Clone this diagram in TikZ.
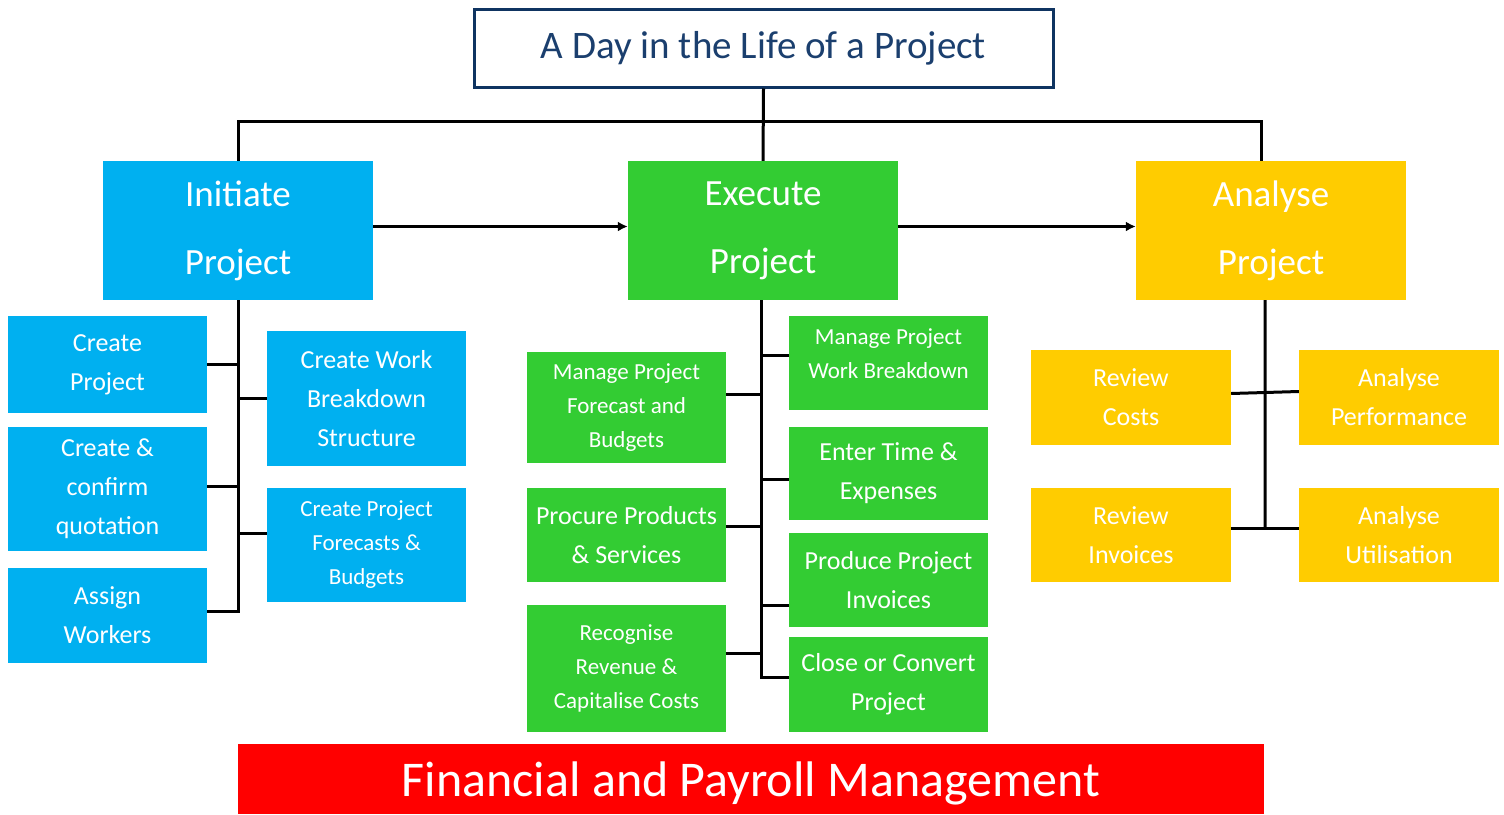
\documentclass[tikz,border=0pt]{standalone}
\usepackage{fontspec}
\setmainfont{Carlito}
\usetikzlibrary{positioning,calc,arrows.meta}

\definecolor{initblue}{HTML}{00B0F0}
\definecolor{execgreen}{HTML}{33CC33}
\definecolor{analyellow}{HTML}{FFCC00}
\definecolor{titlenavy}{HTML}{0F3461}
\definecolor{titletext}{HTML}{1B3F6E}
\definecolor{payred}{HTML}{FF0000}

\newcommand{\phasetxt}{\fontsize{37}{68}\selectfont}
\newcommand{\bigtxt}{\fontsize{26}{39}\selectfont}
\newcommand{\smalltxt}{\fontsize{23}{34}\selectfont}

\tikzset{
  box/.style={inner sep=0pt, align=center, text=white},
  phase/.style={box, minimum width=270pt, minimum height=139pt, font=\phasetxt},
  task/.style={box, minimum width=199pt, font=\bigtxt},
  initbox/.style={fill=initblue},
  execbox/.style={fill=execgreen},
  analbox/.style={fill=analyellow},
  wire/.style={line width=3pt, black},
}

\begin{document}
\begin{tikzpicture}[x=1pt, y=-1pt]
    \useasboundingbox (0,0) rectangle (1504,814);

    % Title
    \node[draw=titlenavy, line width=3pt, minimum width=579pt, minimum height=78pt,
          inner sep=0pt, text=titletext, font=\fontsize{39}{44}\selectfont]
          (title) at (763.5,48) {A Day in the Life of a Project};

    % Phases
    \node[phase, initbox] (init) at (238,230.5) {Initiate\\Project};
    \node[phase, execbox] (exec) at (763,230.5) {Execute\\Project};
    \node[phase, analbox] (anal) at (1271,230.5) {Analyse\\Project};

    % Initiate tasks
    \node[task, initbox, minimum height=97pt] (cp) at (107.5,364.5) {Create\\Project};
    \node[task, initbox, minimum height=124pt] (ccq) at (107.5,489) {Create \&\\confirm\\quotation};
    \node[task, initbox, minimum height=95pt] (aw) at (107.5,615.5) {Assign\\Workers};
    \node[task, initbox, minimum height=135pt] (cwbs) at (366.5,398.5) {Create Work\\Breakdown\\Structure};
    \node[task, initbox, minimum height=114pt, font=\smalltxt] (cpfb) at (366.5,545) {Create Project\\Forecasts \&\\Budgets};

    % Execute tasks
    \node[task, execbox, minimum height=111pt, font=\smalltxt] (mpfb) at (626.5,407.5) {Manage Project\\Forecast and\\Budgets};
    \node[task, execbox, minimum height=94pt] (pps) at (626.5,535) {Procure Products\\\& Services};
    \node[task, execbox, minimum height=127pt, font=\smalltxt] (rrcc) at (626.5,668.5) {Recognise\\Revenue \&\\Capitalise Costs};
    \node[task, execbox, minimum height=94pt, font=\smalltxt, text depth=18pt] (mpwb) at (888.5,363) {Manage Project\\Work Breakdown};
    \node[task, execbox, minimum height=93pt] (ete) at (888.5,473.5) {Enter Time \&\\Expenses};
    \node[task, execbox, minimum height=94pt] (ppi) at (888.5,580) {Produce Project\\Invoices};
    \node[task, execbox, minimum height=95pt] (ccp) at (888.5,684.5) {Close or Convert\\Project};

    % Analyse tasks
    \node[task, analbox, minimum width=200pt, minimum height=95pt] (rc) at (1131,397.5) {Review\\Costs};
    \node[task, analbox, minimum width=200pt, minimum height=95pt] (ap) at (1399,397.5) {Analyse\\Performance};
    \node[task, analbox, minimum width=200pt, minimum height=94pt] (ri) at (1131,535) {Review\\Invoices};
    \node[task, analbox, minimum width=200pt, minimum height=94pt] (au) at (1399,535) {Analyse\\Utilisation};

    % Bottom bar
    \node[box, fill=payred, minimum width=1026pt, minimum height=70pt, text depth=0pt,
          font=\fontsize{50}{56}\selectfont] (fpm) at (751,779) {Financial and Payroll Management};

    % Title to phases
    \draw[wire] (title.south) -- (exec.north);
    \draw[wire] (init.north) -- ++(0,-39) -| ([xshift=-10pt]anal.north);

    % Phase arrows
    \draw[wire, -{Latex[length=10pt,width=10pt]}] ([yshift=4pt]init.east) -- ([yshift=4pt]exec.west);
    \draw[wire, -{Latex[length=10pt,width=10pt]}] ([yshift=4pt]exec.east) -- ([yshift=4pt]anal.west);

    % Initiate tree
    \foreach \n/\dy in {cp/0, ccq/3, aw/4}
        \draw[wire] ([yshift=\dy pt]\n.east) -| (init.south);
    \foreach \n/\dy in {cwbs/0, cpfb/12}
        \draw[wire] ([yshift=\dy pt]\n.west) -| (init.south);

    % Execute tree
    \foreach \n/\dy in {mpfb/13, pps/9, rrcc/15}
        \draw[wire] ([yshift=\dy pt]\n.east) -| ([xshift=-2pt]exec.south);
    \foreach \n/\dy in {mpwb/8, ete/-6, ppi/-25, ccp/7}
        \draw[wire] ([yshift=\dy pt]\n.west) -| ([xshift=-2pt]exec.south);

    % Analyse tree
    \draw[wire] ([xshift=-6pt]anal.south) -- ($(ri.east)!0.5!(au.west)+(0,-7)$);
    \draw[wire] ([yshift=4pt]rc.east) -- ([yshift=6pt]ap.west);
    \draw[wire] ([yshift=7pt]ri.east) -- ([yshift=7pt]au.west);
\end{tikzpicture}
\end{document}
